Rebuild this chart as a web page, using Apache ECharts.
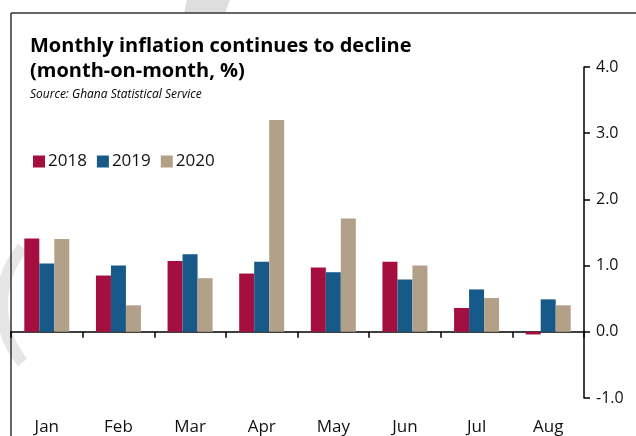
<!DOCTYPE html>
<html>
<head>
<meta charset="utf-8">
<title>Monthly inflation continues to decline</title>
<script src="https://cdn.jsdelivr.net/npm/echarts@6/dist/echarts.min.js"></script>
<style>
  html, body { margin: 0; padding: 0; background: #fff; }
  #chart { width: 636px; height: 436px; }
</style>
</head>
<body>
<div id="chart"></div>
<script>
// Month-on-month inflation, %
const months = ['Jan', 'Feb', 'Mar', 'Apr', 'May', 'Jun', 'Jul', 'Aug'];
const years = ['2018', '2019', '2020'];
const values2018 = [1.41, 0.85, 1.07, 0.88, 0.97, 1.06, 0.36, -0.04];
const values2019 = [1.03, 1.00, 1.17, 1.06, 0.90, 0.79, 0.64, 0.49];
const values2020 = [1.40, 0.40, 0.81, 3.20, 1.71, 1.00, 0.51, 0.40];
const yTicks = { min: -1, max: 4, step: 1 };

const colors = ['#A50F3F', '#175A8A', '#B3A088'];
const font = '"Open Sans", "Noto Sans", sans-serif';

const chart = echarts.init(document.getElementById('chart'), null, { renderer: 'canvas' });

const seriesValues = [values2018, values2019, values2020];

chart.setOption({
  animation: false,
  backgroundColor: '#fff',
  textStyle: { fontFamily: font, color: '#111' },
  title: {
    text: 'Monthly inflation continues to decline\n(month-on-month, %)',
    subtext: 'Source: Ghana Statistical Service',
    left: 25,
    top: 29,
    itemGap: 5,
    textStyle: { fontFamily: font, fontSize: 20, fontWeight: 'bold', color: '#000', lineHeight: 25 },
    subtextStyle: { fontFamily: font, fontSize: 12, fontStyle: 'italic', color: '#000' }
  },
  legend: {
    data: years,
    left: 28,
    top: 148,
    icon: 'rect',
    itemWidth: 12,
    itemHeight: 12,
    itemGap: 10,
    textStyle: { fontFamily: font, fontSize: 17, color: '#111', padding: [0, 0, 0, -2] }
  },
  grid: { left: 11, right: 52, top: 67, bottom: 36, containLabel: false },
  xAxis: [
    {
      type: 'category',
      data: months,
      axisLine: { onZero: true, lineStyle: { color: '#000', width: 1.5 } },
      axisTick: { show: true, length: 6, lineStyle: { color: '#000', width: 1.5 } },
      axisLabel: { show: false },
      splitLine: { show: false }
    },
    {
      type: 'category',
      data: months,
      position: 'bottom',
      axisLine: { show: false, onZero: false },
      axisTick: { show: false },
      axisLabel: { show: true, margin: 21, fontFamily: font, fontSize: 17, color: '#111' },
      splitLine: { show: false }
    }
  ],
  yAxis: {
    type: 'value',
    position: 'right',
    min: yTicks.min,
    max: yTicks.max,
    interval: yTicks.step,
    axisLine: { show: true, lineStyle: { color: '#000', width: 1.5 } },
    axisTick: { show: true, inside: false, length: 6, lineStyle: { color: '#000', width: 1.5 } },
    axisLabel: {
      margin: 12,
      fontFamily: font,
      fontSize: 16,
      color: '#111',
      formatter: v => v.toFixed(1)
    },
    splitLine: { show: false }
  },
  series: years.map((name, i) => ({
    name,
    type: 'bar',
    xAxisIndex: 0,
    data: seriesValues[i],
    barWidth: 15,
    barGap: '0%',
    itemStyle: { color: colors[i] }
  })),
  graphic: [
    // faint background swoosh
    {
      type: 'polygon',
      z: -10,
      silent: true,
      shape: { points: [[187, 0], [230, 0], [225, 13], [184, 13]] },
      style: { fill: '#dedede' }
    },
    {
      type: 'arc',
      z: -10,
      silent: true,
      shape: { cx: 92, cy: 305, r: 90, startAngle: Math.PI * 0.78, endAngle: Math.PI * 1.22 },
      style: { stroke: '#e6e6e6', lineWidth: 12, fill: null }
    },
    // frame lines
    {
      type: 'line',
      silent: true,
      shape: { x1: 11, y1: 13, x2: 636, y2: 13 },
      style: { stroke: '#333', lineWidth: 1.5 }
    },
    {
      type: 'line',
      silent: true,
      shape: { x1: 11, y1: 13, x2: 11, y2: 436 },
      style: { stroke: '#333', lineWidth: 1.5 }
    }
  ]
});
</script>
</body>
</html>
